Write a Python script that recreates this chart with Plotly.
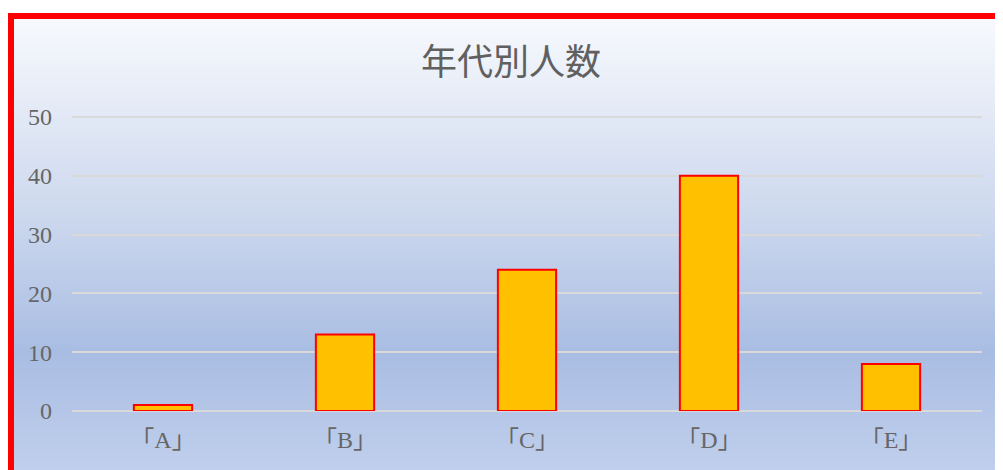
import plotly.graph_objects as go

categories = ["「A」", "「B」", "「C」", "「D」", "「E」"]
values = [1, 13, 24, 40, 8]
y_ticks = [0, 10, 20, 30, 40, 50]
y_range = [0, 51]
title_text = "年代別人数"

# the page body adds an 8px margin, so the figure is offset by (8, 8)
OFF = 8
W, H = 1003 - OFF, 470 - OFF
L, R, T, B = 72 - OFF, 21, 111 - OFF, 59
PW, PH = W - L - R, H - T - B


def px(x):
    return (x - OFF - L) / PW


def py(y):
    return (H - B - (y - OFF)) / PH


def hex2rgb(h):
    h = h.lstrip("#")
    return tuple(int(h[i:i + 2], 16) for i in (0, 2, 4))


stops = [(19, "#f7f9fd"), (200, "#d0dbef"), (352, "#a9bde3"), (470, "#c0cfec")]


def color_at(y):
    for (y0, c0), (y1, c1) in zip(stops, stops[1:]):
        if y0 <= y <= y1:
            t = (y - y0) / (y1 - y0)
            a, b = hex2rgb(c0), hex2rgb(c1)
            return "rgb(%d,%d,%d)" % tuple(round(a[i] + (b[i] - a[i]) * t) for i in range(3))
    return stops[-1][1]


shapes = []
step = 3
y = 19
while y < 475:
    shapes.append(dict(type="rect", xref="paper", yref="paper", layer="below",
                       x0=px(14), x1=px(1010), y0=py(y), y1=py(y + step + 1),
                       fillcolor=color_at(y + step / 2), line=dict(width=0)))
    y += step
# red border (left & top)
shapes.append(dict(type="rect", xref="paper", yref="paper", layer="above",
                   x0=px(8), x1=px(14), y0=py(13), y1=py(480),
                   fillcolor="#ff0000", line=dict(width=0)))
shapes.append(dict(type="rect", xref="paper", yref="paper", layer="above",
                   x0=px(8), x1=px(1010), y0=py(13), y1=py(19),
                   fillcolor="#ff0000", line=dict(width=0)))

fig = go.Figure(go.Bar(
    x=categories, y=values,
    marker=dict(color="#FFC000", line=dict(color="#ff0000", width=2)),
))

tick_font = dict(family="Liberation Serif, Noto Sans CJK JP", size=24, color="#666666")

fig.update_layout(
    width=W, height=H,
    margin=dict(l=L, r=R, t=T, b=B, pad=0),
    paper_bgcolor="white",
    plot_bgcolor="rgba(0,0,0,0)",
    bargap=0.68,
    showlegend=False,
    shapes=shapes,
    title=dict(text=title_text, xref="container", yref="container",
               x=(511 - OFF) / W, y=1 - (62 - OFF) / H, xanchor="center", yanchor="middle",
               font=dict(family="Noto Sans CJK JP", size=36, color="#606060")),
    xaxis=dict(showgrid=False, showline=False, ticks="", tickfont=tick_font,
               ticklabelstandoff=12),
    yaxis=dict(range=y_range, tickvals=y_ticks, showgrid=True, gridcolor="#d9d9d9",
               gridwidth=2, zeroline=True, zerolinecolor="#d9d9d9", zerolinewidth=2,
               showline=False, ticks="", tickfont=tick_font, ticklabelstandoff=19),
)

fig.write_html("out.html")
